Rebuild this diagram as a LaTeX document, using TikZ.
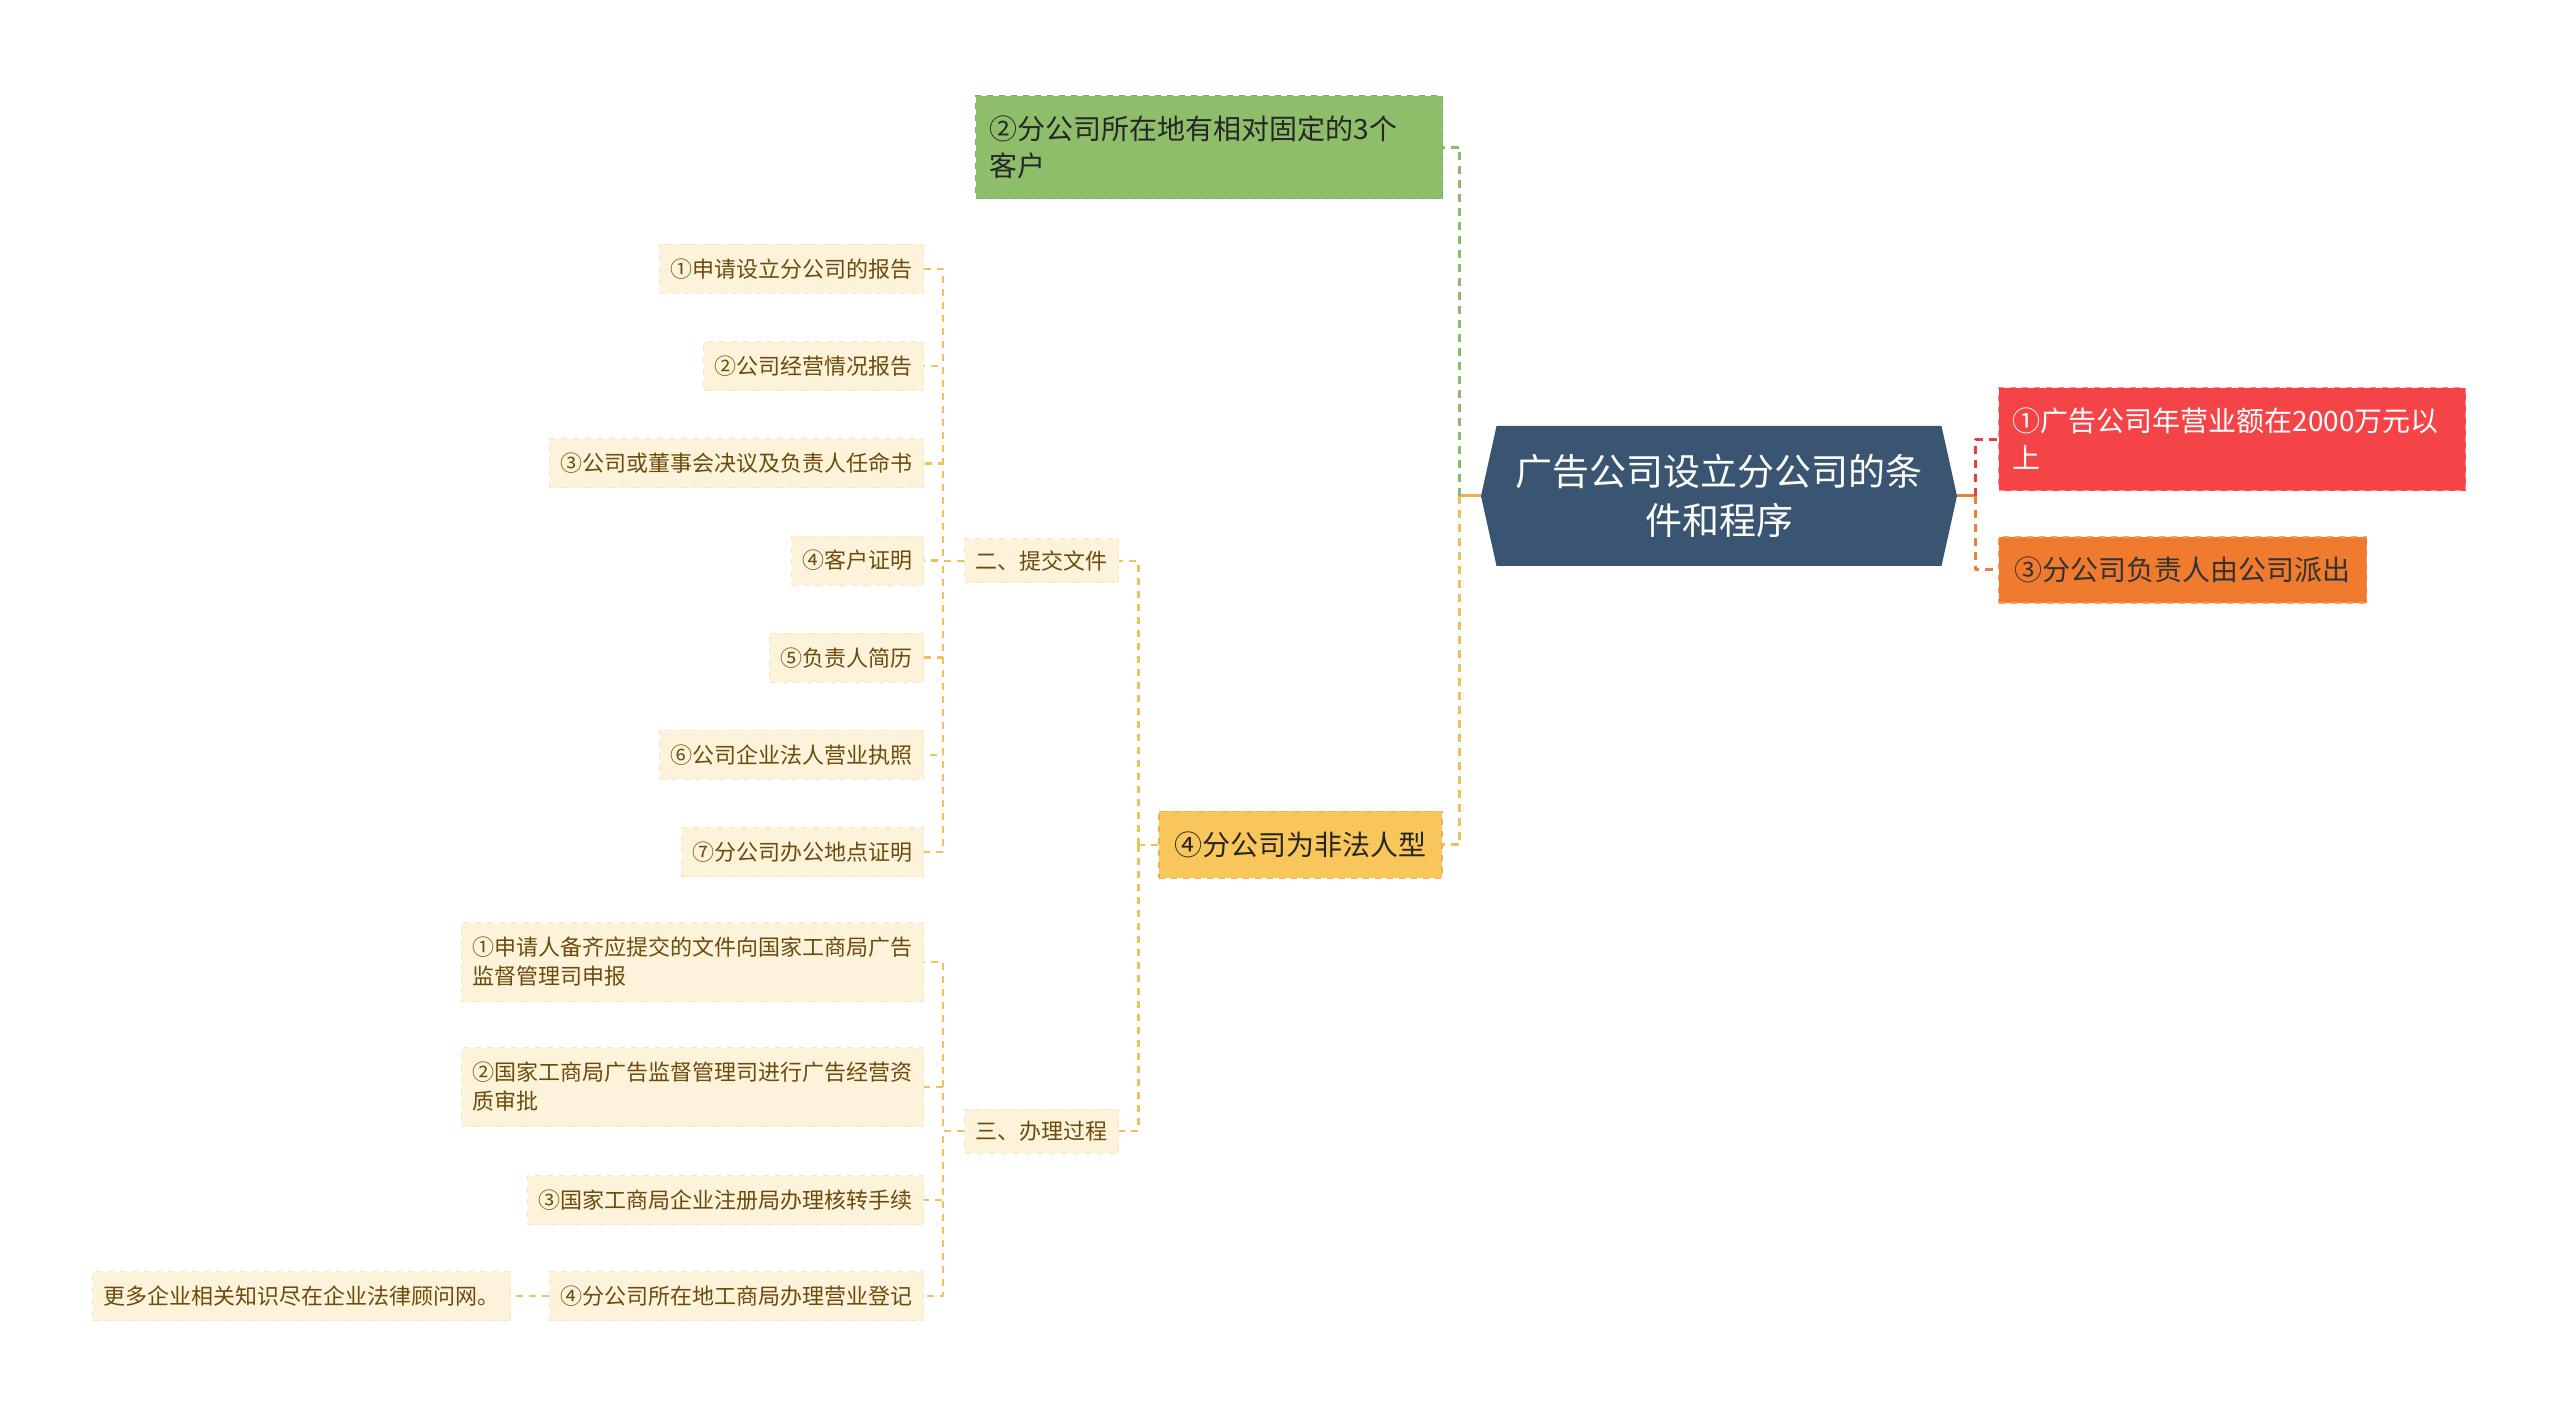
\documentclass[tikz,border=0pt]{standalone}
\usepackage{fontspec}
\setmainfont{Noto Sans CJK SC}
\usetikzlibrary{shapes.symbols}
\definecolor{rootblue}{HTML}{3A5572}
\definecolor{grnfill}{HTML}{8FBE6B}
\definecolor{grnline}{HTML}{7DAE57}
\definecolor{redfill}{HTML}{F54448}
\definecolor{redline}{HTML}{F68A8C}
\definecolor{orgfill}{HTML}{F07A2E}
\definecolor{orgline}{HTML}{F2A060}
\definecolor{yelfill}{HTML}{F8C65A}
\definecolor{yelline}{HTML}{EBB347}
\definecolor{leaffill}{HTML}{FDF3DA}
\definecolor{leafline}{HTML}{F6E7C4}
\definecolor{leaftext}{HTML}{6B4C0C}
\definecolor{ylink}{HTML}{F0C05A}
\definecolor{glink}{HTML}{8DB96A}
\definecolor{rlink}{HTML}{D9434A}
\definecolor{olink}{HTML}{E8813A}
\begin{document}
\begin{tikzpicture}[x=.5pt,y=-.5pt, line join=round,
    rootbox/.style={signal, signal to=west and east, signal pointer angle=155,
        fill=rootblue, text=white, minimum width=238pt, minimum height=70pt,
        align=center, font=\fontsize{18.5}{24.5}\selectfont},
    topic/.style={draw, dashed, line width=.6pt, inner xsep=7pt, inner ysep=0pt,
        font=\fontsize{14}{18.5}\selectfont},
    widetopic/.style={topic, text width=219.5pt, align=left, minimum height=51.5pt},
    leaf/.style={fill=leaffill, draw=leafline, dashed, line width=.5pt, text=leaftext,
        font=\fontsize{11}{14.5}\selectfont, inner xsep=5.5pt, inner ysep=0pt,
        minimum height=24.5pt, align=left},
    mainlink/.style={line width=1.5pt, dash pattern=on 4pt off 3pt},
    leaflink/.style={draw=ylink, line width=1.3pt, dash pattern=on 3.5pt off 3pt}]
    \useasboundingbox (0,0) rectangle (2560,1416);
    \def\lx{924} \def\ly{269} \def\ld{97.2} % leaves column
    % centre and first level
    \node[rootbox] (root) at (1719,496) {广告公司设立分公司的条\\件和程序};
    \node[widetopic, fill=grnfill, draw=grnline, text=black!85, anchor=north west] (cust) at (975,95)
        {②分公司所在地有相对固定的3个\\客户};
    \node[topic, fill=yelfill, draw=yelline, text=black!85, inner xsep=7.75pt, minimum height=33.5pt] (typ) at (1300.5,845)
        {④分公司为非法人型};
    \node[widetopic, fill=redfill, draw=redline, text=white, anchor=north west] (turn) at (1998,387)
        {①广告公司年营业额在2000万元以\\上};
    \node[topic, fill=orgfill, draw=orgline, text=black!80, inner xsep=8pt, minimum height=33pt, anchor=west] (head) at (1998,570)
        {③分公司负责人由公司派出};
    \draw[yelline, line width=1.5pt] (root.west) -- ++(-21,0) coordinate (jl);
    \draw[mainlink, glink] (jl) |- (cust.east);
    \draw[mainlink, ylink] (jl) |- (typ.east);
    \draw[olink, line width=1.5pt] (root.east) -- ++(18,0) coordinate (jr);
    \draw[mainlink, rlink] (jr) |- (turn.west);
    \draw[mainlink, olink] (jr) |- (head.west);
    % second level
    \node[leaf, minimum height=22pt] (two) at (1041.5,561) {二、提交文件};
    \node[leaf, minimum height=22pt] (three) at (1041.5,1131) {三、办理过程};
    \draw[leaflink] (typ.west) -- ++(-20,0) coordinate (jm);
    \draw[leaflink] (jm) |- (two.east);
    \draw[leaflink] (jm) |- (three.east);
    % documents
    \foreach \t [count=\i] in {①申请设立分公司的报告, ②公司经营情况报告, ③公司或董事会决议及负责人任命书,
        ④客户证明, ⑤负责人简历, ⑥公司企业法人营业执照, ⑦分公司办公地点证明}
        \node[leaf, anchor=east] (d\i) at (\lx,{\ly+\ld*(\i-1)}) {\t};
    \foreach \i in {1,...,7}
        \draw[leaflink] (two.west) -- ++(-21,0) |- (d\i.east);
    % procedure
    \node[leaf, anchor=east, minimum height=39.5pt] (p1) at (\lx,962) {①申请人备齐应提交的文件向国家工商局广告\\监督管理司申报};
    \node[leaf, anchor=east, minimum height=39.5pt] (p2) at (\lx,1087) {②国家工商局广告监督管理司进行广告经营资\\质审批};
    \node[leaf, anchor=east] (p3) at (\lx,1200) {③国家工商局企业注册局办理核转手续};
    \node[leaf, anchor=east] (p4) at (\lx,1296) {④分公司所在地工商局办理营业登记};
    \node[leaf, anchor=east] (more) at (511,1296) {更多企业相关知识尽在企业法律顾问网。};
    \foreach \i in {1,...,4}
        \draw[leaflink] (three.west) -- ++(-21,0) |- (p\i.east);
    \draw[leaflink] (p4.west) -- (more.east);
\end{tikzpicture}
\end{document}
